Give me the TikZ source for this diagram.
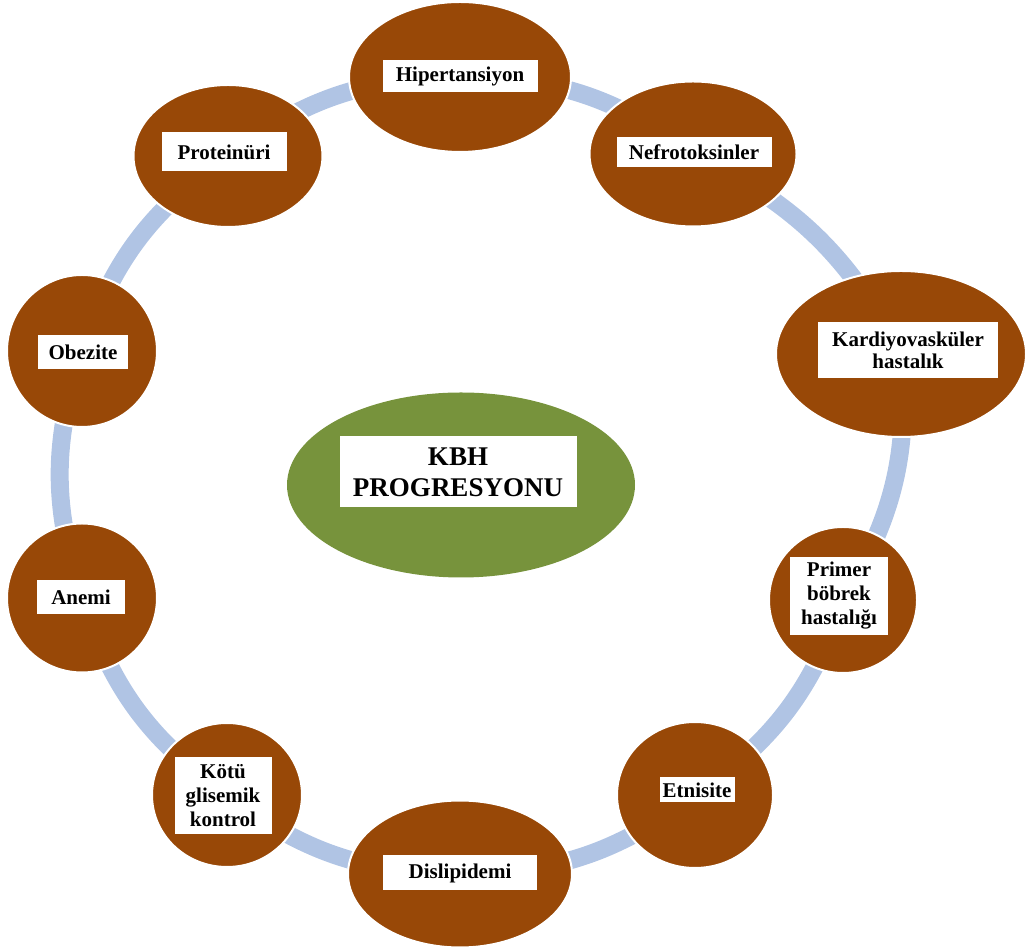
\documentclass[tikz,border=0pt]{standalone}
\usepackage{fontspec}
\setmainfont{Liberation Serif}
\usetikzlibrary{shapes.geometric,backgrounds}

\definecolor{kbhbrown}{HTML}{984807}
\definecolor{kbhgreen}{HTML}{77933C}
\definecolor{kbhring}{HTML}{B0C4E4}

\begin{document}
\begin{tikzpicture}[x=1pt, y=1pt,
    factor/.style={ellipse, fill=kbhbrown, draw=white, line width=2, inner sep=0},
    tag/.style={fill=white, inner sep=0, align=center, font=\bfseries\fontsize{21}{24}\selectfont},
    ring/.style={kbhring, line width=18}]
    \useasboundingbox (0, 0) rectangle (1027, 952);
    % risk factors, clockwise from the top
    \node[factor, minimum width=222, minimum height=150] (hip) at(460, 875) {};
    \node[factor, minimum width=207, minimum height=145] (nef) at(693, 798) {};
    \node[factor, minimum width=250, minimum height=166] (kar) at(901, 598) {};
    \node[factor, minimum width=148, minimum height=146] (pri) at(843, 352) {};
    \node[factor, minimum width=156, minimum height=146] (etn) at(695, 157) {};
    \node[factor, minimum width=224, minimum height=147] (dis) at(460, 78) {};
    \node[factor, minimum width=150, minimum height=144] (kot) at(227, 157) {};
    \node[factor, minimum width=150, minimum height=149] (ane) at(82, 354) {};
    \node[factor, minimum width=150, minimum height=152] (obe) at(82, 601) {};
    \node[factor, minimum width=189, minimum height=142] (pro) at(228, 796) {};
    % centre
    \node[factor, draw=none, fill=kbhgreen, minimum width=348, minimum height=185] (kbh) at(461, 467) {};
    % labels
    \node[tag, minimum width=155, minimum height=32] (hiptag) at(460, 876) {Hipertansiyon};
    \node[tag, minimum width=155, minimum height=30] (neftag) at(694, 800) {Nefrotoksinler};
    \node[tag, minimum width=180, minimum height=56, font=\bfseries\fontsize{21}{22}\selectfont] (kartag) at(908, 602) {Kardiyovasküler\\hastalık};
    \node[tag, minimum width=98, minimum height=78] (pritag) at(839, 356) {Primer\\böbrek\\hastalığı};
    \node[tag, minimum width=75, minimum height=25] (etntag) at(697, 162) {Etnisite};
    \node[tag, minimum width=154, minimum height=35] (distag) at(460, 79) {Dislipidemi};
    \node[tag, minimum width=97, minimum height=77] (kottag) at(223, 156) {Kötü\\glisemik\\kontrol};
    \node[tag, minimum width=88, minimum height=34] (anetag) at(81, 355) {Anemi};
    \node[tag, minimum width=90, minimum height=34] (obetag) at(83, 600) {Obezite};
    \node[tag, minimum width=125, minimum height=39] (protag) at(224, 800) {Proteinüri};
    \node[tag, minimum width=237, minimum height=71, font=\bfseries\fontsize{27}{31}\selectfont] (kbhtag) at(458, 480) {KBH\\PROGRESYONU};
    % the ring behind the factors
    \begin{scope}[on background layer]
        \draw[ring] (hip.center) to[bend left=18] (nef.center);
        \draw[ring] (nef.center) to[bend left=18] (kar.center);
        \draw[ring] (kar.center) to[bend left=18] (pri.center);
        \draw[ring] (pri.center) to[bend left=18] (etn.center);
        \draw[ring] (etn.center) to[bend left=18] (dis.center);
        \draw[ring] (dis.center) to[bend left=18] (kot.center);
        \draw[ring] (kot.center) to[bend left=18] (ane.center);
        \draw[ring] (ane.center) to[bend left=18] (obe.center);
        \draw[ring] (obe.center) to[bend left=18] (pro.center);
        \draw[ring] (pro.center) to[bend left=18] (hip.center);
    \end{scope}
\end{tikzpicture}
\end{document}
